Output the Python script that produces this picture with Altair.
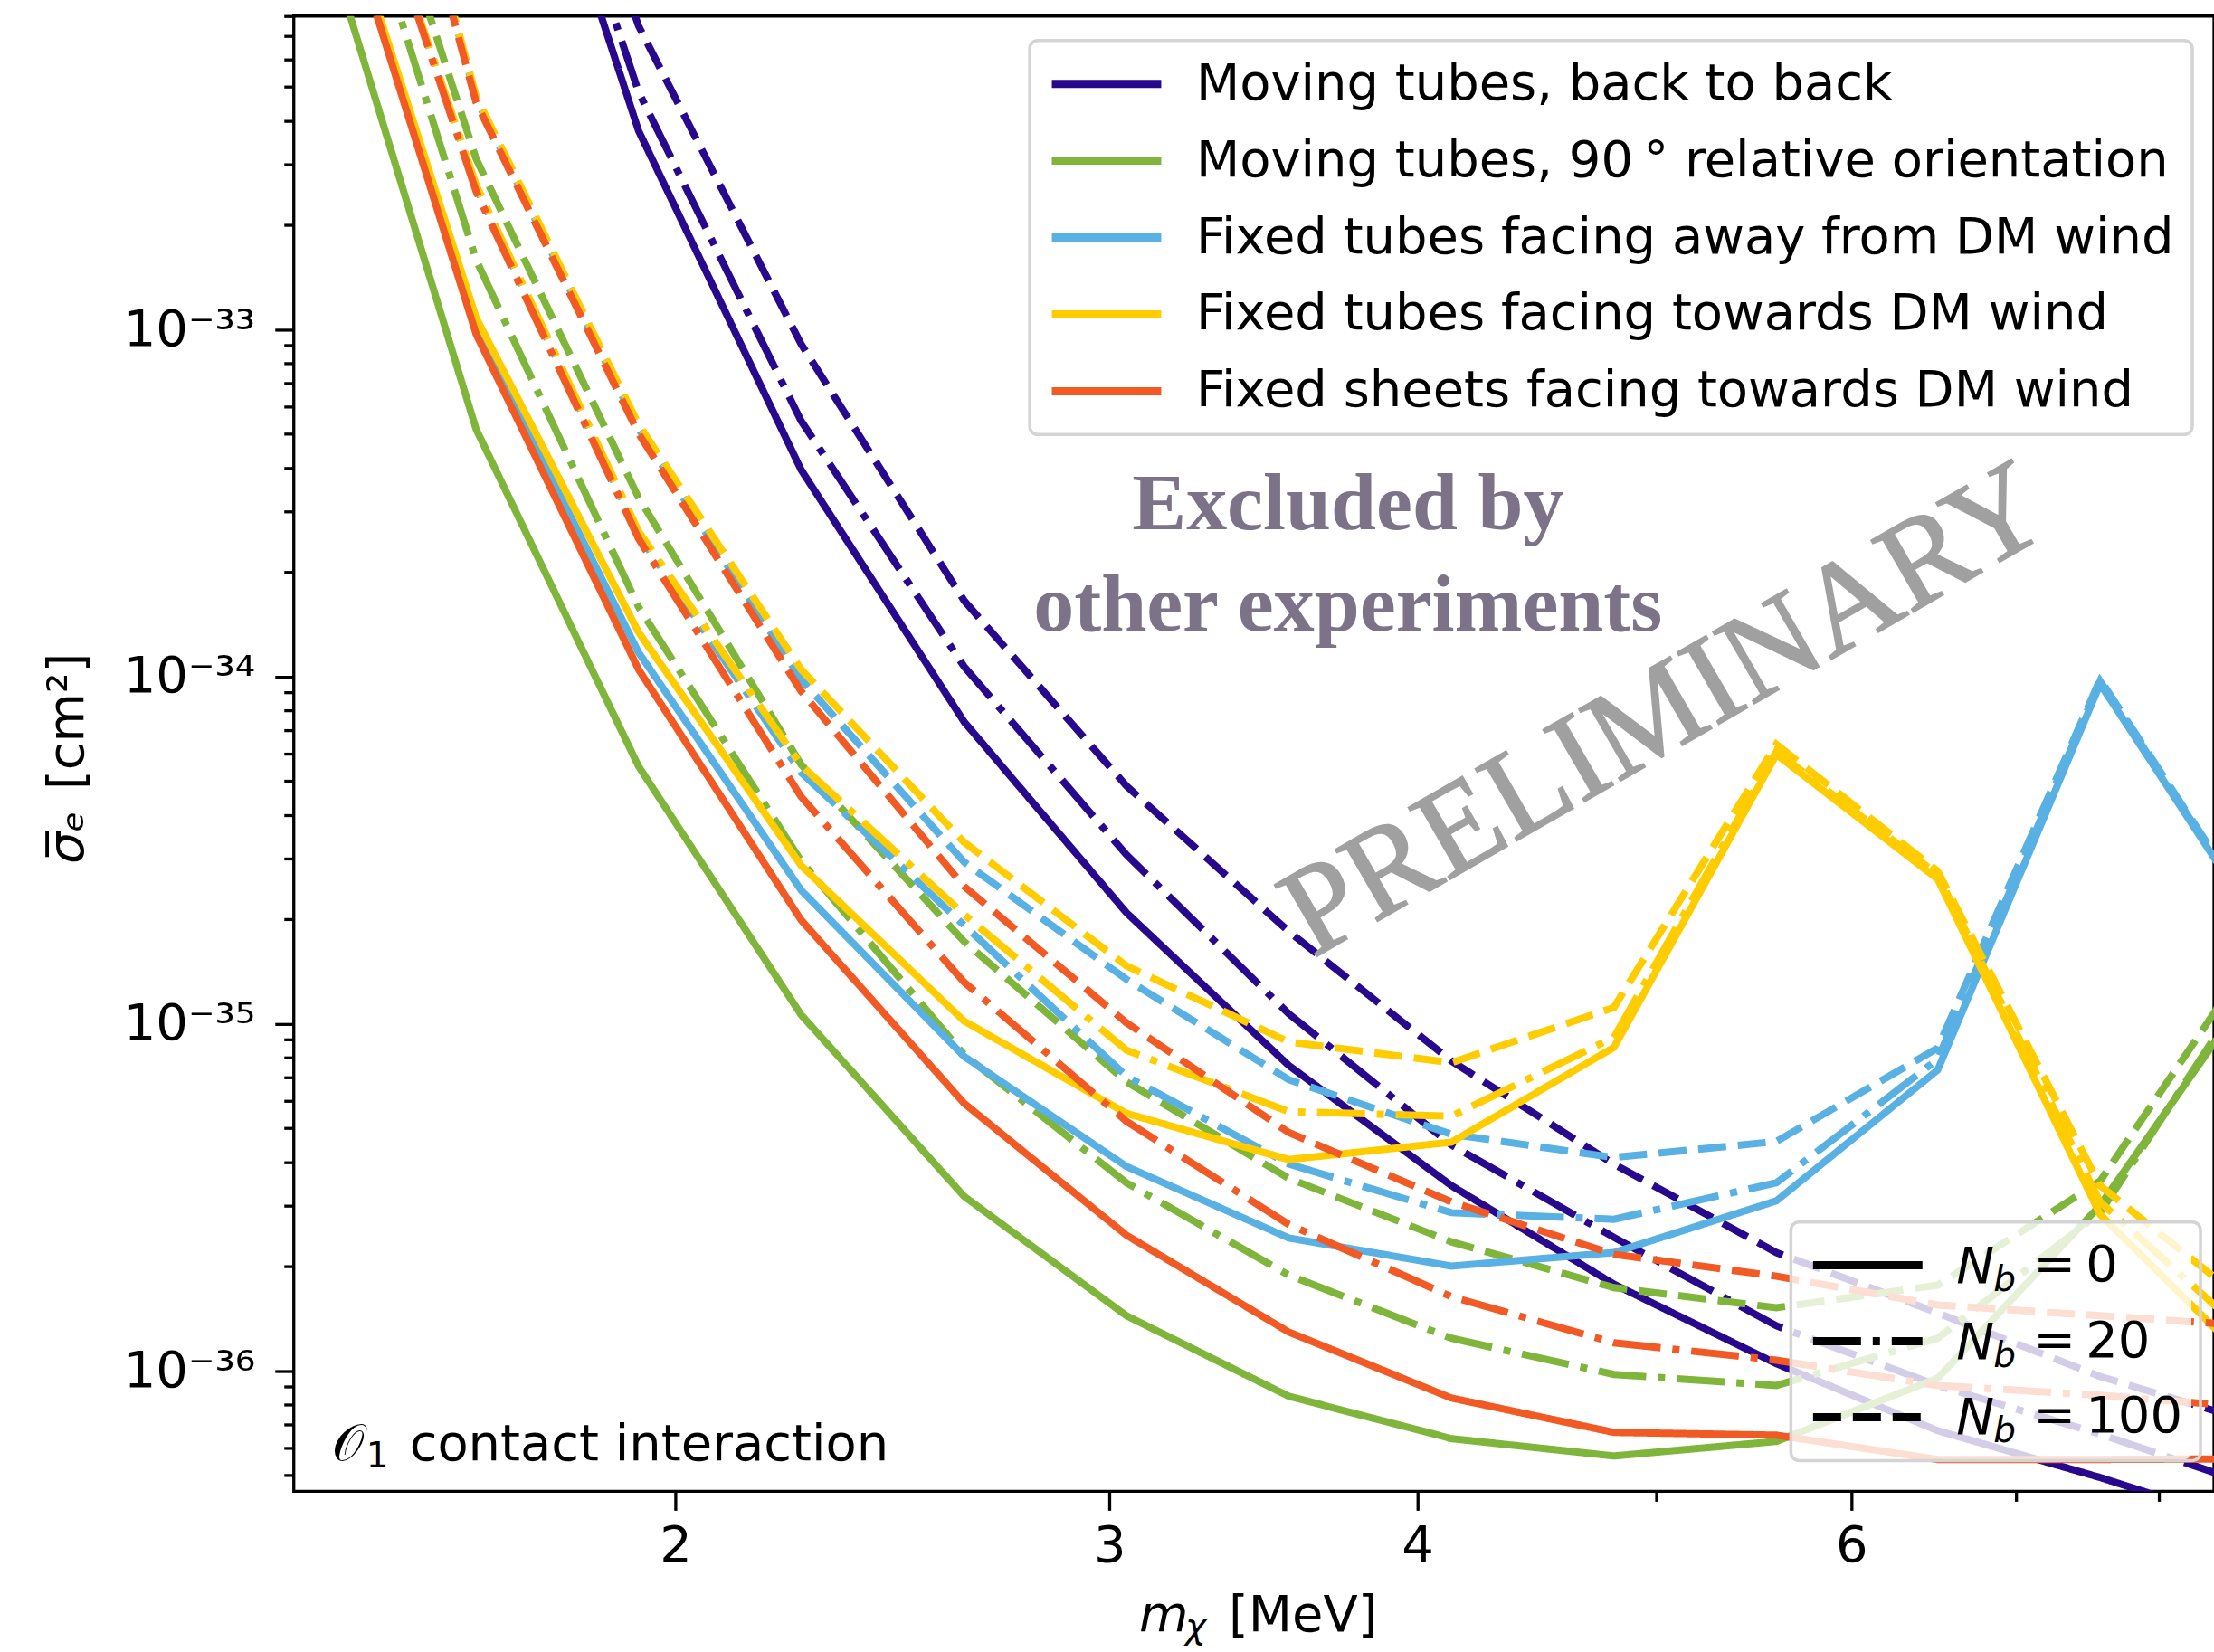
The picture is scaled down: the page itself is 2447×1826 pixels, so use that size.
import altair as alt
import pandas as pd

# ---------------- data ----------------
mass_mev = [1.426, 1.660, 1.932, 2.249, 2.619, 3.048, 3.547, 4.129, 4.806, 5.594, 6.504, 7.57, 8.81]

configurations = [
    "Moving tubes, back to back",
    "Moving tubes, 90\u2009° relative orientation",
    "Fixed tubes facing away from DM wind",
    "Fixed tubes facing towards DM wind",
    "Fixed sheets facing towards DM wind",
]
config_colors = ["#28088c", "#7fb53b", "#58b0e3", "#ffcc00", "#f15a24"]

nb_levels = ["N_b =\u20090", "N_b =\u200920", "N_b =\u2009100"]
nb_dashes = [[1, 0], [53, 13, 8, 13], [31, 13]]

# log10(sigma_e / cm^2) read at each mass point
back_to_back_nb0 = [-29.6, -30.99, -32.427, -33.404, -34.130, -34.680, -35.120, -35.466, -35.750, -35.979, -36.172, -36.307, -36.456]
back_to_back_nb20 = [-29.6, -30.90, -32.315, -33.263, -33.971, -34.513, -34.971, -35.349, -35.615, -35.870, -36.042, -36.182, -36.339]
back_to_back_nb100 = [-29.6, -30.75, -32.125, -33.042, -33.781, -34.315, -34.734, -35.107, -35.404, -35.659, -35.833, -36.016, -36.156]

ninety_nb0 = [-31.75, -33.287, -34.258, -34.974, -35.497, -35.841, -36.073, -36.195, -36.245, -36.203, -36.021, -35.523, -34.857]
ninety_nb20 = [-31.30, -32.799, -33.799, -34.531, -35.089, -35.458, -35.724, -35.906, -36.010, -36.042, -35.906, -35.544, -34.828]
ninety_nb100 = [-31.065, -32.508, -33.484, -34.253, -34.763, -35.167, -35.445, -35.628, -35.760, -35.818, -35.753, -35.453, -34.763]

away_nb0 = [-31.5, -32.992, -33.930, -34.615, -35.094, -35.411, -35.617, -35.698, -35.659, -35.510, -35.133, -34.021, -34.734]
away_nb20 = [-31.2, -32.591, -33.591, -34.276, -34.716, -35.151, -35.404, -35.544, -35.563, -35.458, -35.102, -34.013, -34.729]
away_nb100 = [-30.6, -32.336, -33.286, -34.008, -34.534, -34.872, -35.161, -35.318, -35.385, -35.339, -35.070, -34.008, -34.724]

towards_nb0 = [-31.5, -32.966, -33.872, -34.544, -34.992, -35.258, -35.391, -35.341, -35.068, -34.224, -34.583, -35.549, -36.013]
towards_nb20 = [-31.2, -32.583, -33.581, -34.255, -34.685, -35.076, -35.253, -35.266, -35.039, -34.216, -34.570, -35.513, -35.935]
towards_nb100 = [-30.6, -32.328, -33.273, -33.979, -34.477, -34.833, -35.052, -35.112, -34.953, -34.195, -34.560, -35.466, -35.841]

sheets_nb0 = [-31.51, -33.013, -33.979, -34.701, -35.229, -35.609, -35.888, -36.078, -36.177, -36.185, -36.255, -36.255, -36.253]
sheets_nb20 = [-31.195, -32.602, -33.602, -34.346, -34.880, -35.281, -35.578, -35.786, -35.919, -35.969, -36.042, -36.070, -36.107]
sheets_nb100 = [-30.61, -32.346, -33.299, -34.042, -34.604, -34.997, -35.313, -35.513, -35.664, -35.727, -35.810, -35.841, -35.872]

series = [
    (configurations[0], [back_to_back_nb0, back_to_back_nb20, back_to_back_nb100]),
    (configurations[1], [ninety_nb0, ninety_nb20, ninety_nb100]),
    (configurations[2], [away_nb0, away_nb20, away_nb100]),
    (configurations[3], [towards_nb0, towards_nb20, towards_nb100]),
    (configurations[4], [sheets_nb0, sheets_nb20, sheets_nb100]),
]

rows = []
for cfg, triple in series:
    for nb, logs in zip(nb_levels, triple):
        for m, lv in zip(mass_mev, logs):
            rows.append({"config": cfg, "nb": nb, "mass": m, "sigma": 10.0 ** lv})
df = pd.DataFrame(rows)

x_ticks = [2, 3, 4, 5, 6, 7, 8]
y_ticks = [k * 10.0 ** e for e in range(-37, -32) for k in range(1, 10) if 4.5e-37 <= k * 10.0 ** e <= 8e-33]

FONT = "DejaVu Sans"
FS = 56
LINE_W = 8

# ---------------- encodings ----------------
x_major = "indexof([2, 3, 4, 6], datum.value) >= 0"
y_major = "abs(log(datum.value) / LN10 - round(log(datum.value) / LN10)) < 0.001"
y_exp = "round(log(datum.value) / LN10)"
y_label = (
    f"{y_major} ? ('10' + ({y_exp} == -33 ? '⁻³³' : {y_exp} == -34 ? '⁻³⁴' : "
    f"{y_exp} == -35 ? '⁻³⁵' : '⁻³⁶')) : ''"
)

x_enc = alt.X(
    "mass:Q",
    scale=alt.Scale(type="log", domain=[1.4, 8.42], nice=False),
    axis=alt.Axis(
        title=None, values=x_ticks, labelExpr=f"{x_major} ? '' + datum.value : ''",
        tickSize={"condition": {"test": x_major, "value": 21}, "value": 11},
        labelPadding=12, labelOverlap=False, labelFlush=False,
    ),
)
y_enc = alt.Y(
    "sigma:Q",
    scale=alt.Scale(type="log", domain=[4.5e-37, 8e-33], nice=False),
    axis=alt.Axis(
        title=None, values=y_ticks, labelExpr=y_label,
        tickSize={"condition": {"test": y_major, "value": 21}, "value": 11},
        labelPadding=22, labelOverlap=False, labelFlush=False,
    ),
)
color_enc = alt.Color(
    "config:N",
    scale=alt.Scale(domain=configurations, range=config_colors),
    legend=alt.Legend(
        title=None, orient="none", legendX=814, legendY=27, symbolType="stroke",
        symbolSize=14641, symbolStrokeWidth=9, clipHeight=56, rowPadding=29, padding=20,
        labelOffset=34, labelFont=FONT, labelFontSize=FS, labelLimit=3000, labelColor="black",
        fillColor="rgba(255,255,255,0.8)", strokeColor="#d4d4d4", cornerRadius=9,
    ),
)
# dash legend: frame only, its translucent fill is a rect drawn under the N_b texts
DLX, DLY, DLW, DLH = 1656, 1334, 444, 264
dash_enc = alt.StrokeDash(
    "nb:N",
    scale=alt.Scale(domain=nb_levels, range=nb_dashes),
    legend=alt.Legend(
        title=None, orient="none", legendX=DLX, legendY=DLY, symbolType="stroke",
        symbolSize=14641, symbolStrokeWidth=9, symbolStrokeColor="black", clipHeight=56,
        rowPadding=28, padding=20, labelOffset=118, labelExpr="replace(datum.label, 'N_b ', '')",
        labelFont=FONT, labelFontSize=FS, labelLimit=3000, labelColor="black",
        strokeColor="#d4d4d4", cornerRadius=9,
    ),
)

base = alt.Chart(df).mark_line(clip=True, strokeWidth=LINE_W).encode(
    x=x_enc, y=y_enc, color=color_enc, strokeDash=dash_enc
)
line_layers = [base.transform_filter(alt.datum.config == c) for c in configurations]

one = pd.DataFrame({"k": [0]})


def label(text, x, y, **kw):
    opts = dict(font=FONT, fontSize=FS, color="black", align="left", baseline="alphabetic")
    opts.update(kw)
    return alt.Chart(one).mark_text(text=text, **opts).encode(x=alt.value(x), y=alt.value(y))


dash_legend_fill = alt.Chart(one).mark_rect(
    color="white", opacity=0.8, cornerRadius=9
).encode(
    x=alt.value(DLX + 1), x2=alt.value(DLX + DLW - 1),
    y=alt.value(DLY + 1), y2=alt.value(DLY + DLH - 1),
)

texts = [
    label(["Excluded by", "other experiments"], 1166, 568, font="Liberation Serif",
          fontWeight="bold", fontSize=90, color="#7d7388", align="center", lineHeight=112),
    label("PRELIMINARY", 1517, 769, font="Liberation Serif", fontSize=140, color="#a0a0a0",
          stroke="#a0a0a0", strokeWidth=2, align="center", baseline="middle", angle=330),
    label("𝒪", 42, 1598),
    label("1", 80, 1606, fontSize=39),
    label("contact interaction", 128, 1598),
    # N_b labels of the dash legend
    label(["N", "N", "N"], 1839, 1401, fontStyle="italic", lineHeight=84),
    label(["b", "b", "b"], 1880, 1410, fontStyle="italic", fontSize=39, lineHeight=84),
    # x axis title
    label("m", 935, 1787, fontStyle="italic"),
    label("χ", 986, 1795, fontStyle="italic", fontSize=39),
    label("[MeV]", 1034, 1787),
    # y axis title
    label("σ\u0305ₑ", -233, 938, fontStyle="italic", angle=270),
    label("[cm²]", -233, 856, angle=270),
]

chart = (
    alt.layer(*line_layers, dash_legend_fill, *texts)
    .properties(
        width=2124, height=1632,
        padding={"left": 325, "top": 17, "right": 0, "bottom": 177},
        autosize=alt.AutoSizeParams(type="none"),
        background="white",
    )
    .configure_view(stroke="black", strokeWidth=3.3)
    .configure_axis(
        domain=False, grid=False, tickColor="black", tickWidth=3.3,
        labelFont=FONT, labelFontSize=FS, labelColor="black",
    )
    .configure_legend(strokeWidth=3.5)
)

chart.save("out.html", embed_options={"renderer": "svg", "actions": False})
